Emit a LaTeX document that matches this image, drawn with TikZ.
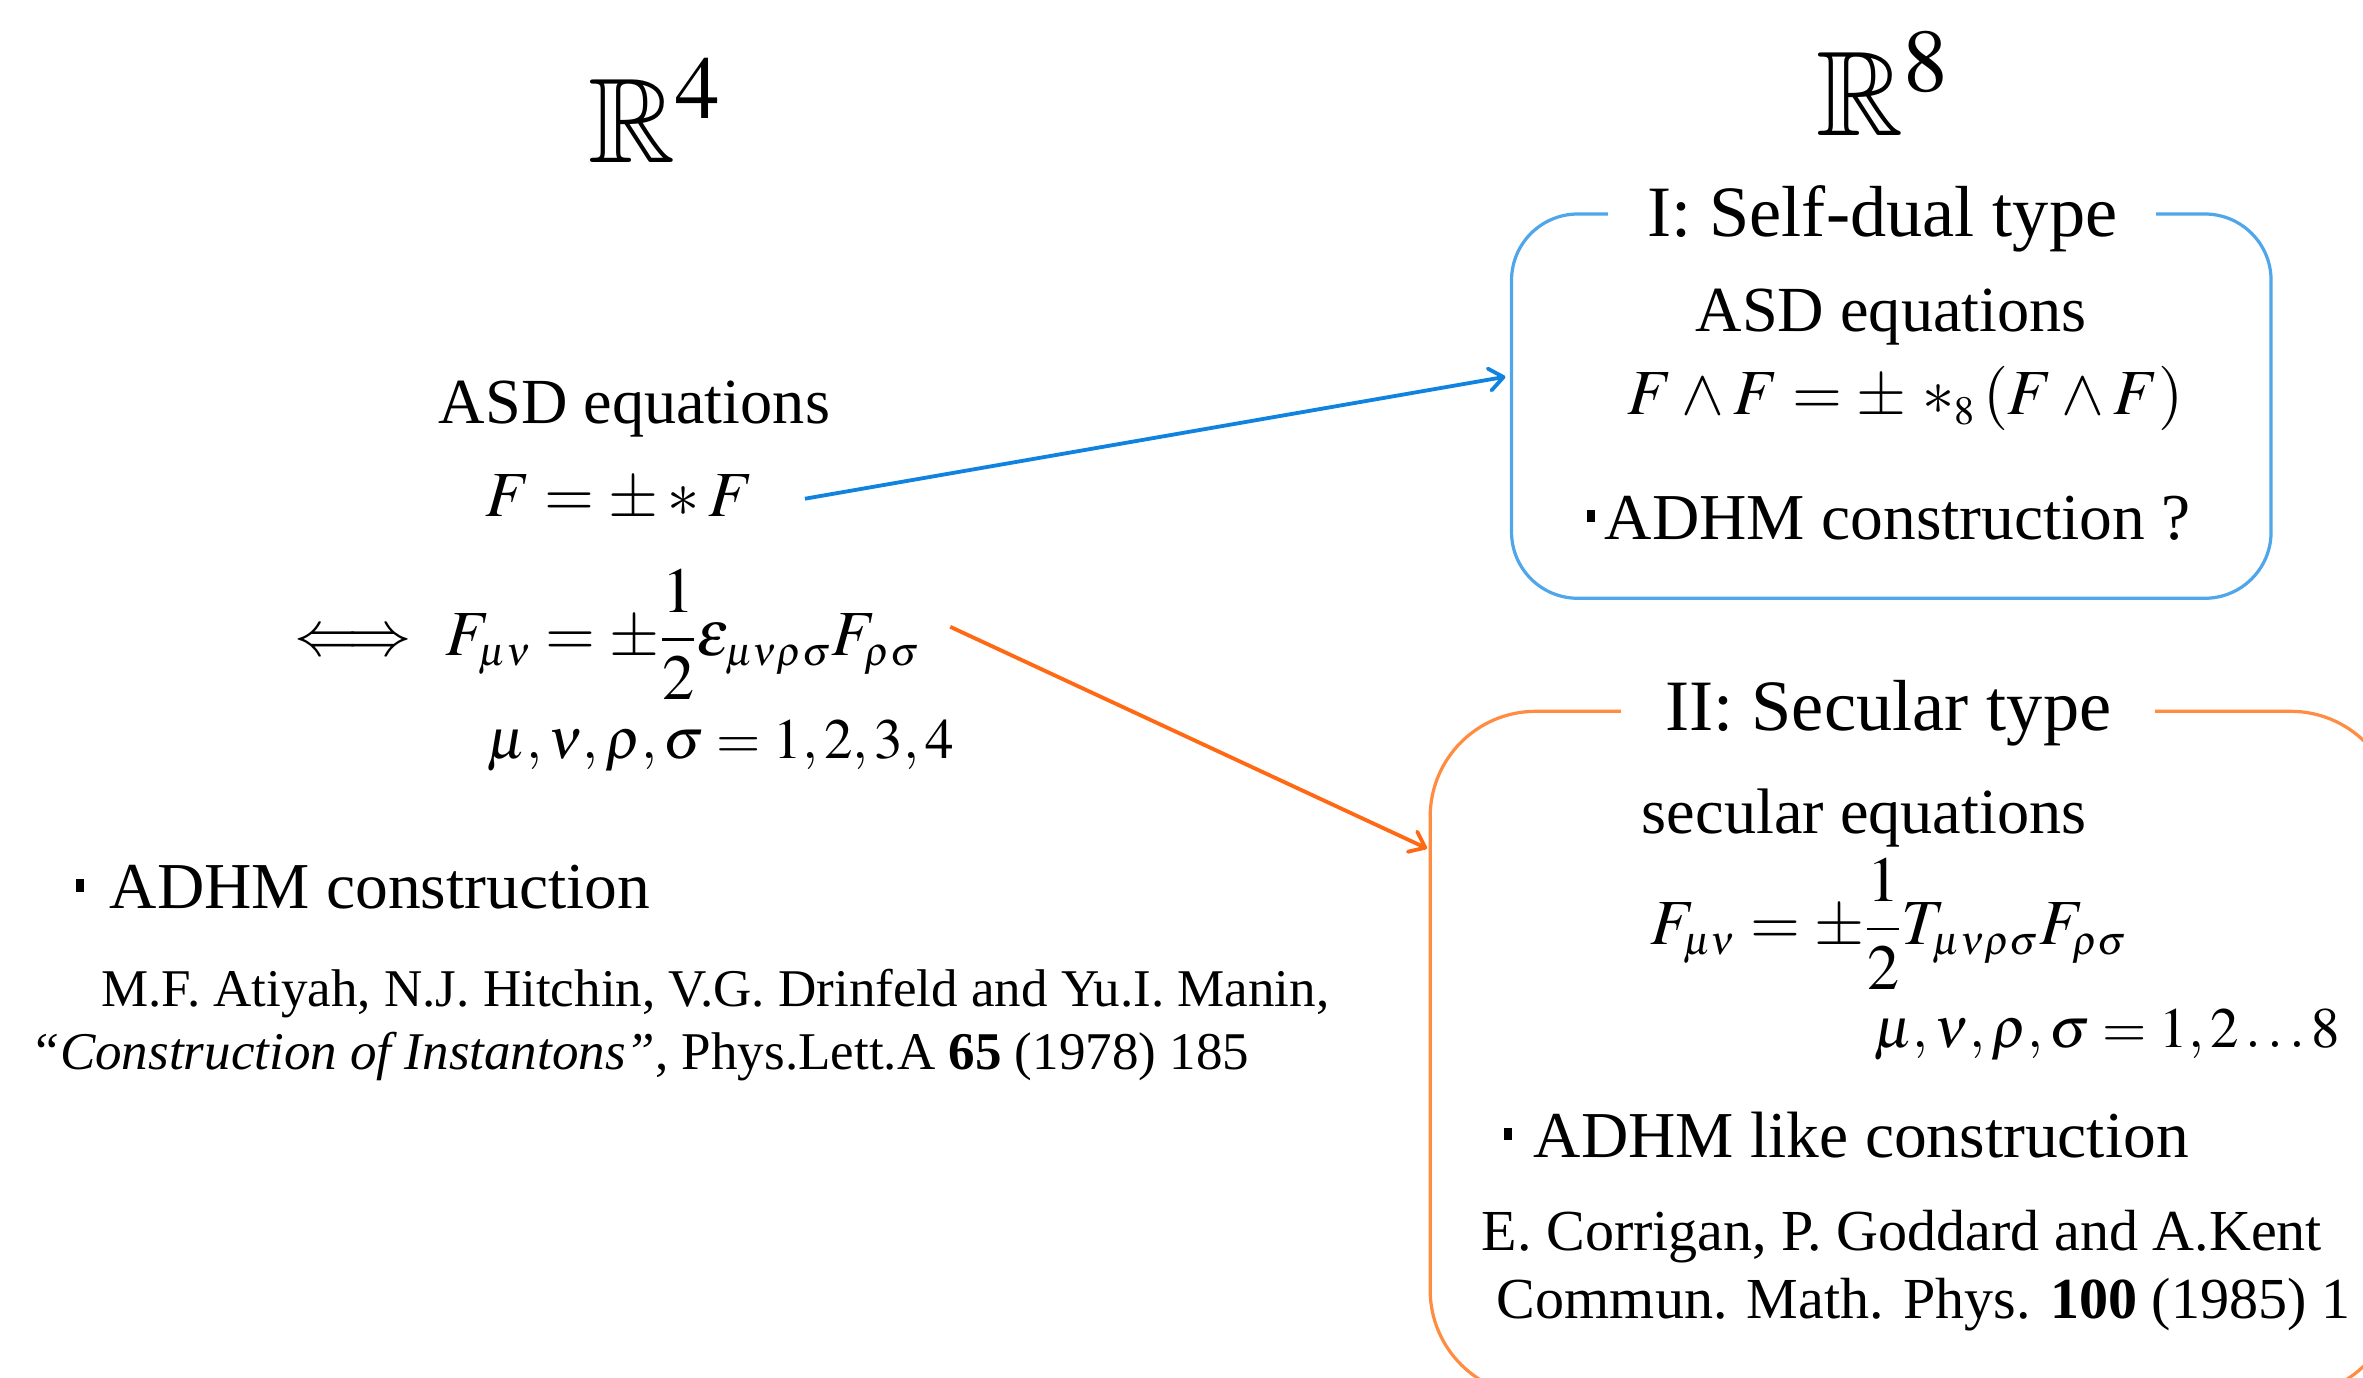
\documentclass[tikz,border=0pt]{standalone}
\usepackage{mathptmx}
\usepackage{amssymb}
\usepackage[no-math]{fontspec}
\setmainfont{Liberation Serif}
\usetikzlibrary{arrows.meta,calc}
\DeclareMathSizes{32}{32}{20}{15}
\definecolor{boxblue}{RGB}{80,166,234}
\definecolor{arrblue}{RGB}{16,130,224}
\definecolor{boxorange}{RGB}{255,140,64}
\definecolor{arrorange}{RGB}{255,105,20}
\newcommand\sqbul{\rule[0.26em]{0.12em}{0.19em}}
\tikzset{
  bigfont/.style={font=\fontsize{60}{68}\selectfont, inner sep=0pt},
  headfont/.style={font=\fontsize{36}{42}\selectfont},
  mainfont/.style={font=\fontsize{32}{38}\selectfont, inner sep=0pt},
  itemfont/.style={font=\fontsize{32.6}{38}\selectfont, inner sep=0pt},
  idxfont/.style={font=\fontsize{28.4}{34}\selectfont, inner sep=0pt},
  reffontL/.style={font=\fontsize{26.4}{31}\selectfont, inner sep=0pt},
  reffontR/.style={font=\fontsize{28.9}{34}\selectfont, inner sep=0pt},
  framebox/.style={line width=1.6pt, inner sep=0pt},
  conn/.style={line width=1.9pt, -{Straight Barb[length=7pt,width=11pt,round]}},
}
\begin{document}
\begin{tikzpicture}[x=0.75pt, y=-0.75pt]
\useasboundingbox (0,0) rectangle (1568,914);

% titles
\node[bigfont, anchor=base west] (r4) at (390,108) {$\mathbb{R}^4$};
\node[bigfont, anchor=base west] (r8) at (1205,90) {$\mathbb{R}^8$};

% left column
\node[mainfont, anchor=base] (asdL) at (421,281) {ASD equations};
\node[mainfont, anchor=base] (eqF) at (411,343) {$F = \pm * F$};
\node[mainfont, anchor=base west] (eqL) at (195,435)
  {$\Longleftrightarrow\hspace{0.3em}F_{\mu\nu} = \pm{\displaystyle\frac{1}{2}}\varepsilon_{\mu\nu\rho\sigma}F_{\rho\sigma}$};
\node[idxfont, anchor=base west] (idxL) at (323,503) {$\mu,\nu,\rho,\sigma = 1,2,3,4$};
\node[itemfont, anchor=base west] (adhmL) at (50,603) {\sqbul\hspace{0.4em}ADHM construction};
\node[reffontL, anchor=base west] (refL1) at (67,668) {M.F. Atiyah, N.J. Hitchin, V.G. Drinfeld and Yu.I. Manin,};
\node[reffontL, anchor=base west] (refL2) at (20,710) {\textit{“Construction of Instantons”}, Phys.Lett.A \textbf{65} (1978) 185};

% blue box (I)
\node[framebox, draw=boxblue, rounded corners=33pt, minimum width=378pt, minimum height=191.25pt] (bbox) at (1255,269.5) {};
\node[headfont, fill=white, inner xsep=19.5pt, inner ysep=2pt, anchor=base] (btitle) at (1249,157) {I: Self-dual type};
\node[mainfont, anchor=base] (asdR) at (1255,220) {ASD equations};
\node[mainfont, anchor=base west] (eqR) at (1080,275) {$F\wedge F = \pm\ {*}_8\,(F\wedge F)$};
\node[itemfont, anchor=base west] (adhmR) at (1053,358) {\sqbul\hspace{0.15em}ADHM construction ?};

% orange box (II)
\node[framebox, draw=boxorange, rounded corners=52.5pt, minimum width=480.75pt, minimum height=340.5pt] (obox) at (1269.5,699) {};
\node[headfont, fill=white, inner xsep=22pt, inner ysep=2pt, anchor=base] (otitle) at (1253,485) {II: Secular type};
\node[mainfont, anchor=base] (secR) at (1237,553) {secular equations};
\node[mainfont, anchor=base west] (eqS) at (1095,627)
  {$F_{\mu\nu} = \pm{\displaystyle\frac{1}{2}}T_{\mu\nu\rho\sigma}F_{\rho\sigma}$};
\node[idxfont, anchor=base west] (idxR) at (1243,695) {$\mu,\nu,\rho,\sigma = 1,2\ldots 8$};
\node[itemfont, anchor=base west] (adhmS) at (998,768) {\sqbul\hspace{0.33em}ADHM like construction};
\node[reffontR, anchor=base west] (refR1) at (983,830) {E. Corrigan, P. Goddard and A.Kent};
\node[reffontR, anchor=base west] (refR2) at (993,875) {Commun. Math. Phys. \textbf{100} (1985) 1};

% connectors
\draw[conn, arrblue] ($(eqF.east)+(34,0)$) -- ($(bbox.west)+(-3,-19.5)$);
\draw[conn, arrorange] ($(eqL.east)+(20,-5)$) -- ($(obox.west)+(-1,-136)$);
\end{tikzpicture}
\end{document}
